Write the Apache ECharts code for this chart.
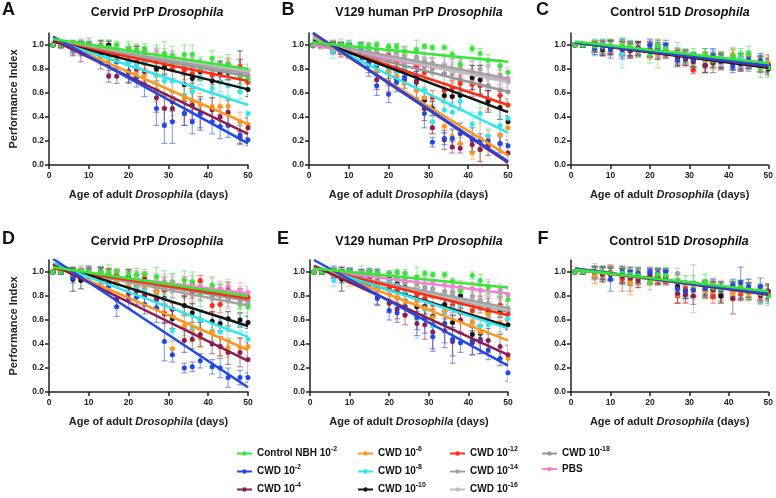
<!DOCTYPE html>
<html><head><meta charset="utf-8">
<script src="https://cdn.jsdelivr.net/npm/echarts@6/dist/echarts.min.js"></script>
<style>html,body{margin:0;padding:0;background:#fff}#c{width:776px;height:498px}</style>
</head><body><div id="c"></div><script>
// Days of measurement
const days = [1,3,6,8,10,13,15,17,20,22,24,27,29,31,34,36,38,41,43,45,48,50];
// Legend / series names
const seriesNames = ['Control NBH 10\u207B\u00B2','CWD 10\u207B\u00B2','CWD 10\u207B\u2074','CWD 10\u207B\u2076','CWD 10\u207B\u2078','CWD 10\u207B\u00B9\u2070','CWD 10\u207B\u00B9\u00B2','CWD 10\u207B\u00B9\u2074','CWD 10\u207B\u00B9\u2076','CWD 10\u207B\u00B9\u2078','PBS'];
const legendBase = ['Control NBH 10','CWD 10','CWD 10','CWD 10','CWD 10','CWD 10','CWD 10','CWD 10','CWD 10','CWD 10','PBS'];
const legendExp = ['-2','-2','-4','-6','-8','-10','-12','-14','-16','-18',''];
const panelTitles = ['Cervid PrP ','V129 human PrP ','Control 51D ','Cervid PrP ','V129 human PrP ','Control 51D '];
const panelLetters = ['A','B','C','D','E','F'];
const xTickLabels = [0,10,20,30,40,50];
const yTickLabels = [0,0.2,0.4,0.6,0.8,1.0];

// Values are Performance Index x100; sd = error bar half-length x100
// ---------- Panel A ----------
const A_ctrl=[100,100,100,100,100,99,98,100,97,96,97,90,93,91,92,92,80,89,83,84,73,71];
const A_ctrl_sd=[1,2,3,3,3,4,6,3,6,5,4,10,10,8,8,8,10,6,7,8,8,7];
const A_e2=[100,100,98,96,97,93,84,86,77,73,67,47,33,36,43,36,43,36,32,33,25,21];
const A_e2_sd=[1,2,4,5,4,6,8,5,8,8,10,14,15,18,10,10,12,10,10,10,8,5];
const A_e4=[100,100,97,94,96,86,74,74,78,80,78,56,47,47,43,50,43,46,40,44,23,31];
const A_e4_sd=[1,2,6,8,5,6,5,6,10,6,8,12,12,10,10,12,14,10,8,10,5,8];
const A_e6=[100,100,99,98,97,90,88,87,77,78,75,63,58,55,55,53,50,49,49,49,36,34];
const A_e6_sd=[1,2,3,4,4,6,6,5,8,7,8,10,12,14,10,10,10,12,10,8,8,6];
const A_e8=[100,100,97,100,98,92,90,86,86,84,85,75,70,70,58,61,73,64,69,66,61,43];
const A_e8_sd=[1,2,4,4,3,6,6,5,6,7,6,8,10,10,10,8,6,8,8,8,6,2];
const A_e10=[100,100,100,100,100,99,100,92,92,94,91,80,81,53,67,72,78,70,78,77,78,63];
const A_e10_sd=[1,2,3,3,3,5,3,5,6,5,4,10,6,8,8,8,7,10,8,6,17,6];
const A_e12=[100,100,100,100,99,97,97,95,92,86,86,86,83,80,79,76,78,75,77,84,82,69];
const A_e12_sd=[1,2,3,3,3,4,4,5,5,6,6,8,7,8,8,8,7,8,7,5,6,5];
const A_e14=[100,100,98,100,101,97,99,94,96,92,93,88,91,85,86,81,82,78,81,79,79,75];
const A_e14_sd=[1,3,6,5,5,6,5,5,5,6,5,7,6,7,7,8,6,7,6,6,7,6];
const A_e16=[100,101,99,99,100,96,98,97,93,95,92,92,87,89,84,87,81,83,80,80,78,79];
const A_e16_sd=[1,2,5,4,5,5,6,5,6,5,6,6,7,6,7,6,7,6,7,6,6,5];
const A_e18=[100,99,96,99,97,97,94,95,91,93,90,89,86,86,82,83,79,80,76,78,74,73];
const A_e18_sd=[1,2,4,4,5,6,5,6,5,6,5,7,6,7,6,7,6,7,6,7,6,6];
const A_pbs=[100,100,98,100,97,98,95,96,93,94,91,91,87,88,84,86,81,83,79,80,82,79];
const A_pbs_sd=[1,2,4,4,4,5,5,5,6,5,6,6,6,7,6,7,6,7,6,7,6,5];
const A_fitStart=[105,107,104,105,104,103,103,103,103,103,102];
const A_fitEnd=[80,18,26,34,50,63,70,76,78,74,77];
// ---------- Panel B ----------
const B_ctrl=[100,100,100,100,100,100,99,100,99,99,95,96,99,98,98,92,84,97,93,87,83,77];
const B_ctrl_sd=[1,2,3,3,3,3,3,3,2,2,4,8,2,2,2,3,5,3,4,5,4,4];
const B_e2=[100,100,98,97,97,95,84,66,59,69,73,74,43,19,22,22,26,21,20,20,18,16];
const B_e2_sd=[1,2,5,4,4,7,10,8,7,8,6,10,12,4,5,8,9,10,6,5,6,5];
const B_e4=[100,100,99,96,96,92,85,71,69,71,71,70,47,31,21,15,14,17,13,16,18,10];
const B_e4_sd=[1,2,4,6,5,6,8,8,8,6,7,8,10,5,8,5,4,6,10,8,8,8];
const B_e6=[100,100,99,97,96,93,90,79,77,74,68,62,56,31,32,24,18,10,13,21,25,31];
const B_e6_sd=[1,2,4,4,5,6,7,8,8,7,8,8,9,5,6,5,5,5,35,8,8,7];
const B_e8=[100,100,95,98,99,98,87,84,79,78,80,70,63,36,46,44,53,34,43,24,33,39];
const B_e8_sd=[1,2,6,4,3,4,6,6,7,6,6,8,8,6,8,8,8,10,8,6,8,6];
const B_e10=[100,100,98,97,95,93,88,83,79,80,80,69,54,47,58,57,58,73,71,53,48,36];
const B_e10_sd=[1,2,4,5,6,5,6,6,7,6,6,13,8,6,6,8,12,10,12,9,10,5];
const B_e12=[100,100,99,98,97,96,93,92,91,86,87,82,77,56,62,64,68,67,66,54,58,50];
const B_e12_sd=[1,2,3,4,4,4,5,4,4,5,5,6,6,6,6,6,7,10,8,8,6,5];
const B_e14=[100,100,99,100,98,97,95,96,92,94,90,90,86,85,82,80,82,77,80,74,75,70];
const B_e14_sd=[1,3,5,5,6,5,6,6,6,7,6,8,7,8,8,9,8,10,9,10,8,8];
const B_e16=[100,99,100,98,99,96,97,94,93,91,92,88,89,83,84,78,80,75,76,72,73,69];
const B_e16_sd=[1,2,4,5,5,6,5,7,6,6,7,7,8,7,9,8,9,8,10,9,8,7];
const B_e18=[100,100,97,98,96,96,93,93,89,89,86,86,82,80,76,76,71,71,66,66,62,61];
const B_e18_sd=[1,3,5,4,6,5,7,6,7,6,7,8,7,9,8,8,10,9,8,9,9,8];
const B_pbs=[99,99,98,98,97,96,96,95,93,92,92,88,86,82,84,80,80,78,76,75,82,72];
const B_pbs_sd=[1,2,4,4,5,5,5,6,5,6,6,7,6,7,7,8,7,8,7,8,6,7];
const B_fitStart=[102,110,110,108,106,105,104,103,103,102,100];
const B_fitEnd=[86,3,2,8,27,44,50,72,69,61,70];
// ---------- Panel C ----------
const C_ctrl=[100,100,99,99,100,100,99,96,92,99,97,93,91,92,92,87,89,91,92,93,81,81];
const C_ctrl_sd=[1,2,4,5,5,6,5,4,7,5,5,4,6,5,5,6,5,6,5,6,8,8];
const C_e2=[100,100,97,98,96,97,97,97,100,98,100,87,90,88,90,91,86,82,84,88,87,83];
const C_e2_sd=[1,2,5,6,7,8,6,5,5,6,4,5,5,6,7,6,6,5,6,7,6,5];
const C_e4=[100,100,98,97,98,96,95,97,96,97,95,90,88,86,83,85,88,85,86,87,84,83];
const C_e4_sd=[1,2,4,6,5,5,6,5,6,5,5,6,5,7,6,8,6,6,7,6,7,6];
const C_e6=[100,100,99,98,99,97,95,96,95,93,96,91,90,85,88,86,87,92,85,86,84,85];
const C_e6_sd=[1,2,5,5,6,5,6,6,7,12,5,6,6,5,6,6,7,6,6,5,6,6];
const C_e8=[100,100,98,99,98,93,96,96,99,96,97,93,90,87,88,90,87,87,89,86,85,82];
const C_e8_sd=[1,2,7,6,5,12,7,6,5,6,5,5,6,5,6,6,5,7,6,6,7,6];
const C_e10=[100,100,99,96,98,98,96,97,95,94,96,89,91,87,83,86,87,85,87,85,84,80];
const C_e10_sd=[1,2,4,5,6,5,5,6,5,6,5,6,5,6,6,5,6,5,6,5,6,5];
const C_e12=[100,100,99,98,99,97,96,98,97,95,95,91,89,79,89,87,86,90,85,86,83,85];
const C_e12_sd=[1,2,4,5,5,6,6,5,6,5,6,5,6,3,5,6,5,6,5,6,5,7];
const C_e14=[100,100,97,99,98,95,97,96,95,96,97,92,90,88,87,89,86,85,84,86,85,82];
const C_e14_sd=[1,2,5,5,6,7,6,5,6,5,5,10,6,6,6,5,6,6,5,5,6,6];
const C_e16=[100,100,98,99,98,97,95,96,96,95,94,92,88,86,87,88,84,86,83,84,82,83];
const C_e16_sd=[1,2,4,5,5,6,5,6,5,6,5,6,5,6,5,6,5,6,5,6,5,6];
const C_e18=[100,100,99,98,97,98,96,95,97,94,95,90,89,88,86,87,85,84,86,83,84,82];
const C_e18_sd=[1,2,5,4,6,5,6,5,6,5,6,5,6,5,6,5,6,5,6,5,6,5];
const C_pbs=[100,100,99,97,99,98,97,96,96,94,95,92,88,87,86,89,85,86,85,84,86,83];
const C_pbs_sd=[1,2,5,5,5,6,6,5,6,5,6,5,6,5,8,6,5,6,5,6,5,6];
const C_fitStart=[103,102,102,102,102,102,102,102,102,102,102];
const C_fitEnd=[85,83,82,84,84,81,84,83,82,82,83];
// ---------- Panel D ----------
const D_ctrl=[100,100,100,100,100,100,100,100,98,98,98,96,91,91,93,92,81,89,83,84,73,71];
const D_ctrl_sd=[1,2,3,3,3,4,6,3,5,5,4,8,10,8,8,8,10,7,7,8,8,7];
const D_e2=[100,100,95,97,100,100,88,71,78,79,73,70,42,31,20,21,26,21,20,12,12,12];
const D_e2_sd=[1,2,4,4,3,4,6,8,8,6,8,12,16,6,4,4,6,6,8,8,6,4];
const D_e4=[100,100,100,98,100,95,90,77,82,84,80,77,65,69,43,44,48,40,38,33,33,27];
const D_e4_sd=[1,2,3,4,5,5,6,6,6,5,6,8,8,6,10,8,10,8,8,10,12,14];
const D_e6=[100,100,99,98,100,93,96,92,88,90,88,83,66,36,55,50,45,50,38,37,37,38];
const D_e6_sd=[1,2,3,4,3,5,4,5,5,5,6,6,8,6,10,8,8,8,8,8,8,8];
const D_e8=[100,100,100,99,100,97,95,92,90,87,85,80,77,51,55,54,60,51,50,52,56,44];
const D_e8_sd=[1,2,3,3,4,5,5,5,6,6,6,8,8,8,8,8,6,8,10,8,6,6];
const D_e10=[100,100,94,93,100,100,98,95,97,93,93,77,78,61,72,66,60,59,57,61,60,58];
const D_e10_sd=[1,2,10,7,3,4,4,5,5,5,5,7,6,8,8,8,8,8,6,6,6,5];
const D_e12=[100,100,100,100,99,100,99,98,95,92,95,90,85,69,88,84,93,72,73,85,80,79];
const D_e12_sd=[1,2,3,3,3,3,4,4,5,5,5,6,6,5,8,6,4,6,7,6,6,5];
const D_e14=[100,100,99,101,99,97,98,95,96,92,93,88,90,85,86,81,84,78,80,77,76,73];
const D_e14_sd=[1,2,4,4,5,5,5,6,5,6,6,7,6,7,7,8,7,8,7,8,7,7];
const D_e16=[100,101,99,100,100,98,97,97,95,95,92,92,89,89,87,86,84,83,82,81,80,79];
const D_e16_sd=[1,2,4,5,5,5,6,5,6,6,6,6,7,7,7,7,8,7,8,7,8,7];
const D_e18=[100,100,98,99,98,98,96,95,94,94,91,90,89,86,86,83,84,80,81,78,78,76];
const D_e18_sd=[1,2,4,4,5,6,5,6,6,6,7,7,6,7,8,7,8,7,8,7,8,6];
const D_pbs=[100,100,100,99,100,99,98,97,96,96,94,93,92,92,89,91,88,89,86,88,85,83];
const D_pbs_sd=[1,2,4,4,4,5,5,5,6,5,6,6,6,6,6,6,5,6,6,6,6,5];
const D_fitStart=[104,111,106,106,107,107,103,104,104,104,103];
const D_fitEnd=[80,4,26,35,46,55,78,72,79,76,82];
// ---------- Panel E ----------
const E_ctrl=[100,100,100,100,100,99,100,99,99,100,99,96,99,98,98,92,84,97,93,87,83,77];
const E_ctrl_sd=[1,2,3,3,3,3,3,3,2,2,3,8,2,2,2,3,5,3,5,5,4,4];
const E_e2=[100,100,100,96,97,98,100,78,68,66,71,62,61,46,57,44,41,43,42,35,28,16];
const E_e2_sd=[1,2,5,5,5,4,3,6,8,8,6,10,12,12,20,20,8,12,10,8,6,7];
const E_e4=[100,100,100,98,96,96,95,79,74,69,64,57,56,50,51,42,60,41,44,43,38,31];
const E_e4_sd=[1,2,3,4,5,6,6,6,8,8,8,10,12,14,10,12,10,10,12,10,10,8];
const E_e6=[100,100,100,96,94,96,93,88,76,79,73,76,70,62,68,78,59,58,50,65,58,28];
const E_e6_sd=[1,2,3,5,6,5,6,6,8,8,8,6,8,8,10,6,10,8,10,8,8,4];
const E_e8=[100,100,93,98,98,97,97,96,91,89,84,61,69,55,66,70,73,58,55,56,57,61];
const E_e8_sd=[1,2,5,4,4,4,5,5,5,6,6,16,8,10,8,8,8,8,8,8,8,6];
const E_e10=[100,100,100,94,99,95,97,99,95,90,87,71,71,63,73,58,80,48,49,67,67,56];
const E_e10_sd=[1,2,3,10,4,5,4,3,4,5,5,6,6,6,6,6,5,6,6,5,5,4];
const E_e12=[100,100,99,98,97,96,95,92,86,84,82,81,78,73,72,72,66,68,73,71,72,65];
const E_e12_sd=[1,2,3,4,4,4,5,5,5,5,6,6,6,6,7,6,7,8,7,7,7,6];
const E_e14=[100,100,99,100,98,99,95,97,93,94,91,90,87,86,84,83,79,80,76,74,73,70];
const E_e14_sd=[1,2,4,4,5,6,5,6,6,6,6,7,7,7,7,8,7,8,7,8,7,6];
const E_e16=[100,101,98,99,99,97,96,95,94,92,91,88,89,85,82,84,78,79,77,73,71,69];
const E_e16_sd=[1,2,4,5,5,5,6,6,6,6,7,6,7,7,7,7,8,7,8,7,7,7];
const E_e18=[100,100,99,98,98,96,97,94,93,91,92,87,86,86,81,80,80,76,76,72,70,68];
const E_e18_sd=[1,2,4,4,5,6,5,6,6,7,6,7,7,7,8,7,8,7,8,8,7,7];
const E_pbs=[100,100,99,100,98,98,97,96,96,94,94,92,90,91,89,88,87,86,85,88,85,81];
const E_pbs_sd=[1,2,4,4,4,5,5,5,5,5,6,5,6,6,6,6,6,6,6,6,5,5];
const E_fitStart=[103,110,105,105,105,104,104,103,103,103,102];
const E_fitEnd=[87,22,31,43,53,55,64,70,68,67,82];
// ---------- Panel F ----------
const F_ctrl=[100,100,100,100,99,99,98,97,92,98,97,93,91,90,92,87,86,86,87,84,82,80];
const F_ctrl_sd=[1,2,4,4,5,5,5,6,7,6,5,6,6,7,6,6,6,7,6,7,9,8];
const F_e2=[100,100,100,100,94,100,100,99,100,99,100,86,84,85,86,88,85,89,91,88,88,80];
const F_e2_sd=[1,2,4,5,10,5,4,5,3,4,3,6,6,6,6,6,6,5,13,6,7,6];
const F_e4=[100,100,100,98,99,96,95,93,97,96,96,82,81,80,87,85,86,78,85,84,80,84];
const F_e4_sd=[1,2,5,6,5,6,6,6,5,6,6,8,7,7,6,7,6,13,8,7,6,6];
const F_e6=[100,100,97,97,99,98,91,94,95,96,97,81,82,86,84,84,86,82,84,82,82,83];
const F_e6_sd=[1,2,7,6,6,6,10,7,6,6,6,7,7,6,6,7,6,6,7,6,6,6];
const F_e8=[100,100,99,98,99,96,96,98,97,98,99,85,83,87,86,84,85,84,86,83,81,82];
const F_e8_sd=[1,2,5,5,6,6,6,5,6,5,5,6,6,6,6,6,6,6,6,6,6,6];
const F_e10=[100,100,100,99,98,97,96,97,95,96,96,88,84,86,85,85,80,86,87,85,82,84];
const F_e10_sd=[1,2,4,5,5,6,5,6,5,6,5,6,6,6,6,6,6,6,6,6,6,6];
const F_e12=[100,100,98,99,100,94,94,96,99,97,96,80,86,85,84,80,81,83,82,85,83,82];
const F_e12_sd=[1,2,4,5,6,10,10,6,5,6,5,6,6,6,6,6,6,6,6,6,6,6];
const F_e14=[100,100,99,98,99,96,97,95,96,95,96,99,87,86,88,86,84,85,84,88,84,83];
const F_e14_sd=[1,2,8,6,6,6,5,6,5,6,5,4,6,20,6,6,6,6,6,6,6,6];
const F_e16=[100,100,98,99,98,97,96,96,95,95,96,93,85,83,87,87,83,85,83,84,82,82];
const F_e16_sd=[1,2,5,5,6,6,6,5,6,5,6,6,6,6,6,6,6,6,6,6,6,6];
const F_e18=[100,100,99,98,98,97,95,95,96,96,95,91,86,85,86,86,82,83,85,83,81,82];
const F_e18_sd=[1,2,5,5,6,6,6,5,6,5,6,6,6,6,6,6,6,6,6,6,6,6];
const F_pbs=[100,100,100,98,99,98,96,96,97,94,95,92,87,86,87,89,87,84,86,84,83,83];
const F_pbs_sd=[1,2,5,5,6,6,6,5,6,5,6,6,6,6,6,6,6,6,6,6,6,6];
const F_fitStart=[102,103,103,102,102,102,102,102,102,102,102];
const F_fitEnd=[84,82,81,82,82,83,82,83,82,82,83];

// ---------- build ----------
const FF = "'Liberation Sans', Arial, Helvetica, sans-serif";
const colors = ['#35e835','#1f48e6','#8c1d50','#ff961c','#2ee6ee','#141414','#ff2b15','#a3a3a3','#bfbfbf','#979797','#f282d2'];
const panels = [
  {vals:[A_ctrl,A_e2,A_e4,A_e6,A_e8,A_e10,A_e12,A_e14,A_e16,A_e18,A_pbs], sds:[A_ctrl_sd,A_e2_sd,A_e4_sd,A_e6_sd,A_e8_sd,A_e10_sd,A_e12_sd,A_e14_sd,A_e16_sd,A_e18_sd,A_pbs_sd], fs:A_fitStart, fe:A_fitEnd},
  {vals:[B_ctrl,B_e2,B_e4,B_e6,B_e8,B_e10,B_e12,B_e14,B_e16,B_e18,B_pbs], sds:[B_ctrl_sd,B_e2_sd,B_e4_sd,B_e6_sd,B_e8_sd,B_e10_sd,B_e12_sd,B_e14_sd,B_e16_sd,B_e18_sd,B_pbs_sd], fs:B_fitStart, fe:B_fitEnd},
  {vals:[C_ctrl,C_e2,C_e4,C_e6,C_e8,C_e10,C_e12,C_e14,C_e16,C_e18,C_pbs], sds:[C_ctrl_sd,C_e2_sd,C_e4_sd,C_e6_sd,C_e8_sd,C_e10_sd,C_e12_sd,C_e14_sd,C_e16_sd,C_e18_sd,C_pbs_sd], fs:C_fitStart, fe:C_fitEnd},
  {vals:[D_ctrl,D_e2,D_e4,D_e6,D_e8,D_e10,D_e12,D_e14,D_e16,D_e18,D_pbs], sds:[D_ctrl_sd,D_e2_sd,D_e4_sd,D_e6_sd,D_e8_sd,D_e10_sd,D_e12_sd,D_e14_sd,D_e16_sd,D_e18_sd,D_pbs_sd], fs:D_fitStart, fe:D_fitEnd},
  {vals:[E_ctrl,E_e2,E_e4,E_e6,E_e8,E_e10,E_e12,E_e14,E_e16,E_e18,E_pbs], sds:[E_ctrl_sd,E_e2_sd,E_e4_sd,E_e6_sd,E_e8_sd,E_e10_sd,E_e12_sd,E_e14_sd,E_e16_sd,E_e18_sd,E_pbs_sd], fs:E_fitStart, fe:E_fitEnd},
  {vals:[F_ctrl,F_e2,F_e4,F_e6,F_e8,F_e10,F_e12,F_e14,F_e16,F_e18,F_pbs], sds:[F_ctrl_sd,F_e2_sd,F_e4_sd,F_e6_sd,F_e8_sd,F_e10_sd,F_e12_sd,F_e14_sd,F_e16_sd,F_e18_sd,F_pbs_sd], fs:F_fitStart, fe:F_fitEnd}
];
const layout = [
  {left:49, top:33, w:199, tx:157, ty:13, lx:8.5, ly:10, yName:true},
  {left:309, top:33, w:199, tx:419, ty:13, lx:288, ly:10},
  {left:571, top:33, w:198, tx:680, ty:13, lx:542.5, ly:10},
  {left:49, top:260, w:199, tx:157, ty:242, lx:8.5, ly:239, yName:true},
  {left:310, top:260, w:198, tx:419, ty:242, lx:283, ly:239},
  {left:571, top:260, w:198, tx:679, ty:242, lx:543, ly:239}
];
const AX = '#222';
const txt = (o)=>Object.assign({fontFamily:FF, fontWeight:'bold', color:AX}, o);
const grid=[], xAxis=[], yAxis=[], series=[], graphic=[];
panels.forEach((p,i)=>{
  const L = layout[i];
  grid.push({left:L.left, top:L.top, width:L.w, height:132});
  xAxis.push({gridIndex:i, type:'value', min:0, max:50, interval:10,
    axisLine:{lineStyle:{color:AX,width:1.5}}, axisTick:{length:4,lineStyle:{color:AX,width:1.5}},
    splitLine:{show:false},
    axisLabel:txt({margin:6, fontSize:8.5, formatter:v=>xTickLabels.includes(v)?String(v):''}),
    name:'{n|Age of adult }{i|Drosophila}{n| (days)}', nameLocation:'middle', nameGap:24,
    nameTextStyle:{rich:{n:txt({fontSize:11}), i:txt({fontSize:11, fontStyle:'italic'})}}
  });
  yAxis.push({gridIndex:i, type:'value', min:0, max:1.1, interval:0.2,
    axisLine:{show:true, lineStyle:{color:AX,width:1.5}},
    axisTick:{show:true, length:4, customValues:yTickLabels, lineStyle:{color:AX,width:1.5}},
    splitLine:{show:false},
    axisLabel:txt({margin:5, fontSize:8.5, customValues:yTickLabels, formatter:v=>v.toFixed(1)}),
    name: L.yName ? 'Performance Index' : '', nameLocation:'middle', nameGap:30,
    nameTextStyle:txt({fontSize:11})
  });
  graphic.push({type:'text', x:L.tx, y:L.ty, style:{text:'{b|'+panelTitles[i]+'}{i|Drosophila}', align:'center', verticalAlign:'middle',
    rich:{b:{fontSize:12.5,fontWeight:'bold',fontFamily:FF,fill:'#111'}, i:{fontSize:12.5,fontWeight:'bold',fontStyle:'italic',fontFamily:FF,fill:'#111'}}}});
  graphic.push({type:'text', x:L.lx, y:L.ly, style:{text:panelLetters[i], align:'center', verticalAlign:'middle', fontSize:18, fontWeight:'bold', fontFamily:FF, fill:'#111'}});
  for (let j=10;j>=0;j--){
    const c = colors[j];
    const vals = p.vals[j], sds = p.sds[j];
    series.push({type:'custom', xAxisIndex:i, yAxisIndex:i, z:2, silent:true, clip:true,
      data: days.map((d,k)=>[d, vals[k]/100, sds[k]/100]),
      encode:{x:0,y:1},
      renderItem:(params, api)=>{
        const x=api.value(0), y=api.value(1), e=api.value(2);
        const t=api.coord([x,y+e]), b=api.coord([x,y-e]);
        const st={stroke:c, lineWidth:1.2, opacity:0.5};
        return {type:'group', children:[
          {type:'line', shape:{x1:t[0],y1:t[1],x2:b[0],y2:b[1]}, style:st},
          {type:'line', shape:{x1:t[0]-3,y1:t[1],x2:t[0]+3,y2:t[1]}, style:st},
          {type:'line', shape:{x1:b[0]-3,y1:b[1],x2:b[0]+3,y2:b[1]}, style:st}
        ]};
      }
    });
  }
  for (let j=10;j>=0;j--){
    const vals = p.vals[j];
    series.push({type:'scatter', name:seriesNames[j], xAxisIndex:i, yAxisIndex:i, z:3,
      symbol:'circle', symbolSize:5, itemStyle:{color:colors[j], opacity:1},
      data: days.map((d,k)=>[d, vals[k]/100])});
  }
  for (let j=10;j>=0;j--){
    series.push({type:'line', xAxisIndex:i, yAxisIndex:i, z:4, silent:true, showSymbol:false, symbol:'none',
      lineStyle:{color:colors[j], width:2.5}, itemStyle:{color:colors[j]},
      data:[[days[0], p.fs[j]/100],[days[days.length-1], p.fe[j]/100]]});
  }
});
const icon = 'path://M0,3.5H24V6.5H0Z M8.5,5a3.5,3.5 0 1,1 7,0a3.5,3.5 0 1,1 -7,0Z';
const legendCols = [[0,1,2],[3,4,5],[6,7,8],[9,10]];
const legendLeft = [237,358,450,542];
const legend = legendCols.map((col,ci)=>({
  orient:'vertical', left:legendLeft[ci], top:446, height:60, padding:0, itemGap:5.5, itemWidth:15, itemHeight:5, icon:icon,
  selectedMode:false,
  data: col.map(j=>({name:seriesNames[j], icon:icon})),
  formatter: (name)=>{
    const j = seriesNames.indexOf(name);
    return '{n|'+legendBase[j]+'}' + (legendExp[j] ? '{s|'+legendExp[j]+'}' : '');
  },
  textStyle:{fontFamily:FF, fontWeight:'bold', fontSize:10, color:'#111',
    rich:{n:{fontFamily:FF, fontWeight:'bold', fontSize:10, color:'#111'},
          s:{fontFamily:FF, fontWeight:'bold', fontSize:7, color:'#111', padding:[0,0,8,0]}}}
}));
const chart = echarts.init(document.getElementById('c'), null, {renderer:'canvas'});
chart.setOption({animation:false, backgroundColor:'#fff', grid, xAxis, yAxis, series, legend, graphic});
</script></body></html>
